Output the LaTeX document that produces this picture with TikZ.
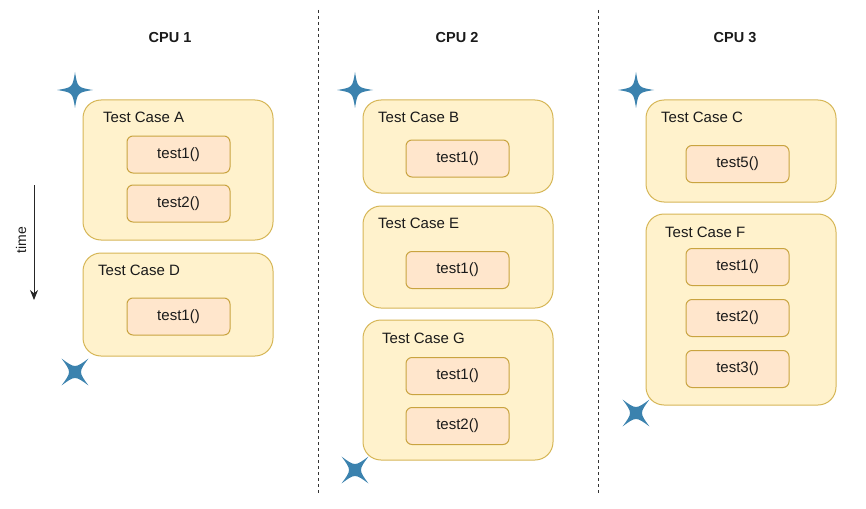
\documentclass[tikz,border=0pt]{standalone}
\usepackage{fontspec}
\setmainfont{Liberation Sans}
\usetikzlibrary{arrows.meta}
\definecolor{outfill}{HTML}{FFF2CC}
\definecolor{outdraw}{HTML}{D6B656}
\definecolor{infill}{HTML}{FFE6CC}
\definecolor{indraw}{HTML}{C9A440}
\definecolor{starc}{HTML}{3B82AE}
\definecolor{txt}{HTML}{1A1A1A}
\tikzset{
  outer/.style={draw=outdraw, fill=outfill, line width=1pt, rounded corners=18pt, minimum width=190pt, inner sep=0pt},
  inner/.style={draw=indraw, fill=infill, line width=1pt, rounded corners=6pt, minimum width=103pt, minimum height=37pt, inner sep=0pt, font=\fontsize{15}{17}\selectfont, text=txt},
  caselabel/.style={anchor=west, font=\fontsize{15}{17}\selectfont, text=txt, inner sep=0pt},
  cpulabel/.style={font=\bfseries\fontsize{14.5}{17}\selectfont, text=txt},
  divider/.style={draw=black!80, line width=1pt, dash pattern=on 3pt off 3pt},
  starshape/.pic={\fill[starc] (0,18) .. controls (2.5,2.5) .. (18,0) .. controls (2.5,-2.5) .. (0,-18) .. controls (-2.5,-2.5) .. (-18,0) .. controls (-2.5,2.5) .. cycle;},
  crossshape/.pic={\fill[starc,rotate=45] (0,19) .. controls (2.5,2.5) .. (19,0) .. controls (2.5,-2.5) .. (0,-19) .. controls (-2.5,-2.5) .. (-19,0) .. controls (-2.5,2.5) .. cycle;}
}
\begin{document}
\begin{tikzpicture}[x=1pt,y=-1pt]
\useasboundingbox (0,0) rectangle (866,508);
% titles
\node[cpulabel] (cpu1) at (170,38) {CPU 1};
\node[cpulabel] (cpu2) at (457,38) {CPU 2};
\node[cpulabel] (cpu3) at (735,38) {CPU 3};
% dividers
\coordinate (d1t) at (318,10); \coordinate (d1b) at (318,495);
\coordinate (d2t) at (598,10); \coordinate (d2b) at (598,495);
\draw[divider] (d1t) -- (d1b);
\draw[divider] (d2t) -- (d2b);
% time arrow
\coordinate (ta) at (34,185); \coordinate (tb) at (34,300);
\draw[line width=1pt, black!85, -{Stealth[length=10pt,width=8pt]}] (ta) -- (tb);
\node[rotate=90, font=\fontsize{14}{16}\selectfont, text=txt] (time) at (21,240) {time};
% CPU 1
\node[outer, minimum height=140pt] (A) at (178,170) {};
\node[caselabel] (Al) at (103,117) {Test Case A};
\node[inner] (A1) at (178.5,154.5) {test1()};
\node[inner] (A2) at (178.5,203.5) {test2()};
\node[outer, minimum height=103pt] (D) at (178,304.5) {};
\node[caselabel] (Dl) at (98,270) {Test Case D};
\node[inner] (D1) at (178.5,316.5) {test1()};
\pic at (75,90) {starshape};
\pic at (75,372) {crossshape};
% CPU 2
\node[outer, minimum height=93pt] (B) at (458,146.5) {};
\node[caselabel] (Bl) at (378,117) {Test Case B};
\node[inner] (B1) at (457.5,158.5) {test1()};
\node[outer, minimum height=102pt] (E) at (458,257) {};
\node[caselabel] (El) at (378,223) {Test Case E};
\node[inner] (E1) at (457.5,270) {test1()};
\node[outer, minimum height=140pt] (G) at (458,390) {};
\node[caselabel] (Gl) at (382,338) {Test Case G};
\node[inner] (G1) at (457.5,376) {test1()};
\node[inner] (G2) at (457.5,426) {test2()};
\pic at (355,90) {starshape};
\pic at (355,470) {crossshape};
% CPU 3
\node[outer, minimum height=102pt] (C) at (741,151) {};
\node[caselabel] (Cl) at (661,117) {Test Case C};
\node[inner] (C1) at (737.5,164) {test5()};
\node[outer, minimum height=191pt] (F) at (741,309.5) {};
\node[caselabel] (Fl) at (665,232) {Test Case F};
\node[inner] (F1) at (737.5,267) {test1()};
\node[inner] (F2) at (737.5,318) {test2()};
\node[inner] (F3) at (737.5,369) {test3()};
\pic at (636,90) {starshape};
\pic at (636,413) {crossshape};
\end{tikzpicture}
\end{document}
